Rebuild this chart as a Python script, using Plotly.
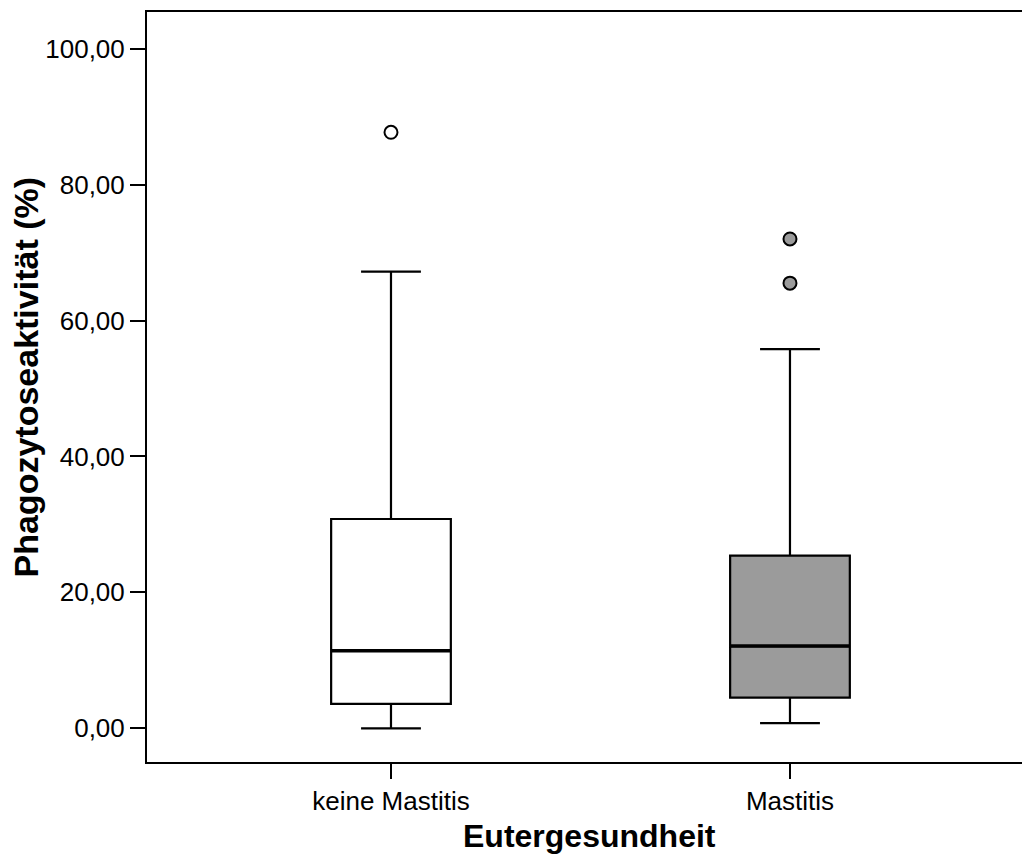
import plotly.graph_objects as go

categories = ["keine Mastitis", "Mastitis"]
lower_whisker = [0.0, 0.77]
q1 = [3.6, 4.5]
median = [11.4, 12.1]
q3 = [30.8, 25.4]
upper_whisker = [67.2, 55.8]
outliers = [[87.7], [72.0, 65.5]]
fill_colors = ["#ffffff", "#9b9b9b"]
y_ticks = [0, 20, 40, 60, 80, 100]
x_title = "Eutergesundheit"
y_title = "Phagozytoseaktivität (%)"

BOX_W = 0.30
FONT = "Liberation Sans, Arial, sans-serif"

fig = go.Figure()
positions = list(range(len(categories)))

for i, cat in enumerate(categories):
    fig.add_trace(go.Box(
        x=[positions[i]],
        q1=[q1[i]], median=[median[i]], q3=[q3[i]],
        lowerfence=[lower_whisker[i]], upperfence=[upper_whisker[i]],
        width=BOX_W, whiskerwidth=0.5,
        fillcolor=fill_colors[i],
        line=dict(color="#000000", width=2.2),
        boxpoints=False, name=cat, showlegend=False, hoverinfo="skip",
    ))
    # thicker median line drawn over the box
    fig.add_trace(go.Scatter(
        x=[positions[i] - BOX_W / 2, positions[i] + BOX_W / 2],
        y=[median[i], median[i]],
        mode="lines", line=dict(color="#000000", width=3.5),
        showlegend=False, hoverinfo="skip",
    ))
    fig.add_trace(go.Scatter(
        x=[positions[i]] * len(outliers[i]),
        y=outliers[i],
        mode="markers",
        marker=dict(size=13, color=fill_colors[i], line=dict(color="#000000", width=2)),
        showlegend=False, hoverinfo="skip",
    ))

fig.update_layout(
    width=1022, height=856,
    margin=dict(l=147, r=0, t=12, b=94),
    paper_bgcolor="white", plot_bgcolor="white",
    separators=",.",
    font=dict(family=FONT, size=26, color="#000000"),
    xaxis=dict(
        range=[-0.6115, 1.5815],
        tickvals=positions, ticktext=categories,
        showline=True, linecolor="#000000", linewidth=2, mirror=True,
        ticks="outside", ticklen=15, tickwidth=2, tickcolor="#000000",
        showgrid=False, zeroline=False, automargin=False,
        tickfont=dict(family=FONT, size=26),
    ),
    yaxis=dict(
        range=[-4.96, 105.4],
        tickvals=y_ticks, tickformat=".2f",
        showline=True, linecolor="#000000", linewidth=2, mirror=False,
        ticks="outside", ticklen=15, tickwidth=2, tickcolor="#000000",
        showgrid=False, zeroline=False, automargin=False,
        tickfont=dict(family=FONT, size=26),
    ),
    annotations=[
        dict(text=x_title, xref="paper", yref="paper",
             x=0.5057, y=-0.1253, xanchor="center", yanchor="bottom",
             showarrow=False, font=dict(family=FONT, size=32, weight="bold")),
        dict(text=y_title, xref="paper", yref="paper", textangle=-90,
             x=-0.1383, y=0.514, xanchor="center", yanchor="middle",
             showarrow=False, font=dict(family=FONT, size=34, weight="bold")),
    ],
)

fig.write_html("out.html", config={"displayModeBar": False},
               post_script="document.body.style.margin='0';")
